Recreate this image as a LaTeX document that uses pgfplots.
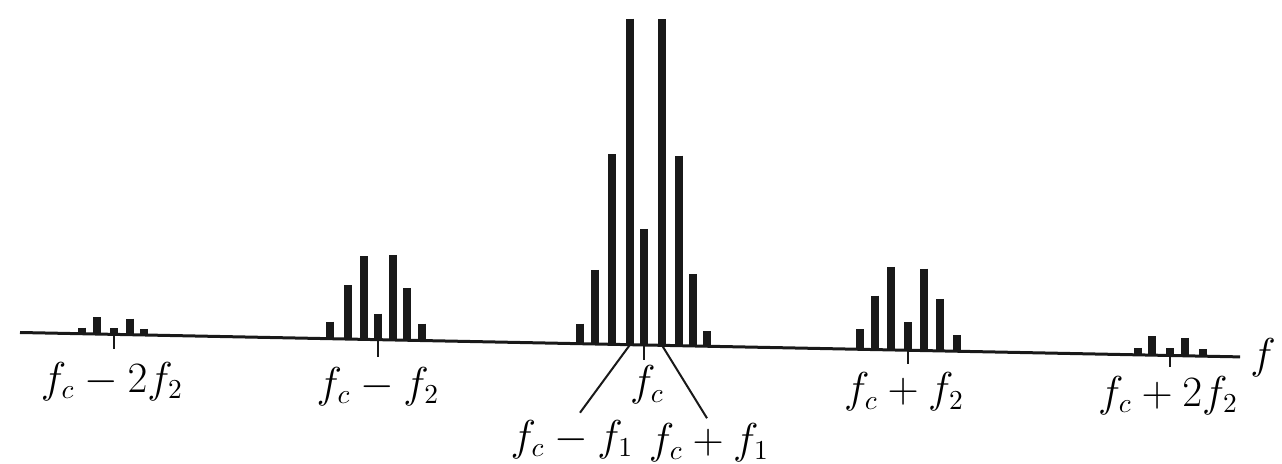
\documentclass[border=0pt]{standalone}
\usepackage{pgfplots}
\pgfplotsset{compat=1.18}
\begin{document}
\begin{tikzpicture}[lab/.style={font=\fontsize{16}{19}\selectfont, inner sep=0pt}]
% x unit vector tilted a little: the scan runs slightly downhill to the right
\begin{axis}[
    x={(0.4pt,-0.008pt)}, y={(0pt,0.4pt)},
    xmin=0, xmax=1282, ymin=-119, ymax=345,
    hide axis, clip=false,
    spike/.style={draw=none, mark=none,
        error bars/.cd, y dir=minus, y explicit, error mark=none,
        error bar style={line width=#1, black!90, line cap=butt}},
]
\coordinate (tl) at (axis cs:0,332.1);
\coordinate (br) at (axis cs:1282,-106.2);
% baseline (frequency axis)
\addplot[black!90, line width=1.2pt] coordinates {(20,0) (1240,0)};
% spectral lines, drawn from the baseline up to their height
\addplot[spike=3.2pt] coordinates {
    (82,6) -= (0,6)     (97,17) -= (0,17)   (114,6) -= (0,6)    (130,16) -= (0,16)  (144,6) -= (0,6)
    (330,17) -= (0,17)  (348,54) -= (0,54)  (364,83) -= (0,83)  (378,26) -= (0,26)
    (393,85) -= (0,85)  (407,52) -= (0,52)  (422,17) -= (0,17)
    (580,20) -= (0,20)  (595,74) -= (0,74)  (612,190) -= (0,190) (630,326) -= (0,326)
    (644,116) -= (0,116) (662,326) -= (0,326) (679,190) -= (0,190) (693,72) -= (0,72) (707,15) -= (0,15)
    (860,20) -= (0,20)  (875,54) -= (0,54)  (891,83) -= (0,83)  (908,28) -= (0,28)
    (924,82) -= (0,82)  (940,52) -= (0,52)  (957,16) -= (0,16)
    (1138,7) -= (0,7)   (1152,19) -= (0,19) (1170,7) -= (0,7)   (1185,18) -= (0,18) (1203,7) -= (0,7)
};
% tick marks under the group centres
\addplot[spike=1.1pt] coordinates {
    (114,0) -= (0,15) (378,0) -= (0,17) (644,0) -= (0,15) (908,0) -= (0,14) (1170,0) -= (0,12)
};
% leader lines to the f_c -+ f_1 labels
\addplot[black!90, line width=0.8pt] coordinates {(630,0) (580,-69)};
\addplot[black!90, line width=0.8pt] coordinates {(662,0) (707,-72)};

\node[lab] at (axis cs:112,-47) {$f_c - 2f_2$};
\node[lab] at (axis cs:378,-47) {$f_c - f_2$};
\node[lab] at (axis cs:647,-40) {$f_c$};
\node[lab] at (axis cs:572,-96) {$f_c - f_1$};
\node[lab] at (axis cs:709,-96) {$f_c + f_1$};
\node[lab] at (axis cs:904,-42) {$f_c + f_2$};
\node[lab] at (axis cs:1168,-40) {$f_c + 2f_2$};
\node[lab] at (axis cs:1263,0) {$f$};
\end{axis}
% page = the scanned area
\pgfresetboundingbox
\path (tl) rectangle (br);
\end{tikzpicture}
\end{document}
